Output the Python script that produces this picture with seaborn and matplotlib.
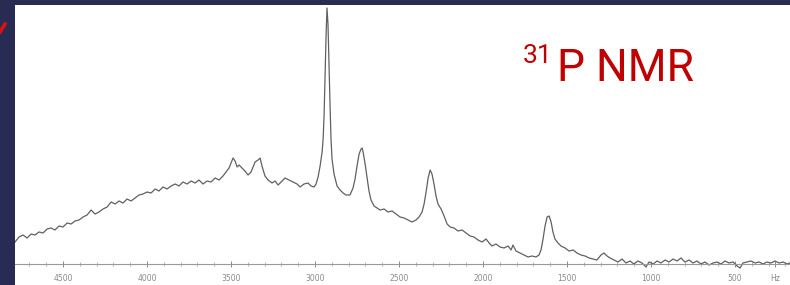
import matplotlib
matplotlib.use("Agg")
import matplotlib.pyplot as plt
from matplotlib.lines import Line2D
from matplotlib.ticker import MultipleLocator
import pandas as pd
import seaborn as sns

# ---- data ----
freq_hz = [4786, 4762, 4738, 4714, 4690, 4667, 4643, 4619, 4595, 4571, 4548, 4524, 4500, 4476,
           4452, 4429, 4405, 4381, 4357, 4333, 4310, 4286, 4262, 4238, 4214, 4190, 4167, 4143,
           4119, 4095, 4071, 4048, 4024, 4000, 3976, 3952, 3929, 3905, 3881, 3857, 3833, 3810,
           3786, 3762, 3738, 3714, 3691, 3667, 3643, 3619, 3595, 3571, 3548, 3530, 3512, 3500,
           3488, 3476, 3464, 3452, 3435, 3417, 3399, 3381, 3369, 3357, 3339, 3327, 3316, 3298,
           3280, 3256, 3238, 3220, 3202, 3179, 3155, 3131, 3107, 3089, 3066, 3042, 3024, 3006,
           2994, 2982, 2970, 2958, 2952, 2946, 2941, 2935, 2929, 2923, 2917, 2911, 2905, 2899,
           2887, 2869, 2851, 2833, 2816, 2792, 2774, 2762, 2750, 2738, 2726, 2720, 2714, 2702,
           2691, 2679, 2667, 2649, 2631, 2613, 2589, 2566, 2542, 2518, 2494, 2470, 2447, 2423,
           2399, 2381, 2363, 2351, 2339, 2327, 2315, 2304, 2292, 2280, 2268, 2250, 2232, 2214,
           2196, 2173, 2149, 2125, 2101, 2077, 2054, 2030, 2006, 1982, 1964, 1947, 1923, 1899,
           1875, 1851, 1833, 1822, 1804, 1780, 1756, 1732, 1709, 1685, 1667, 1655, 1643, 1631,
           1619, 1607, 1595, 1584, 1572, 1554, 1536, 1512, 1488, 1464, 1441, 1417, 1393, 1369,
           1345, 1322, 1298, 1280, 1262, 1244, 1220, 1197, 1173, 1149, 1125, 1102, 1078, 1054,
           1030, 1012, 988, 964, 941, 917, 893, 869, 845, 822, 798, 774, 750, 727,
           703, 679, 655, 631, 607, 584, 560, 536, 512, 488, 470, 453, 429, 405,
           381, 357, 333, 310, 286, 262, 238, 214, 191, 173]

intensity = [22, 27, 29, 26, 30, 29, 32, 31, 35, 36, 34, 38, 37, 41,
             40, 43, 44, 47, 49, 54, 50, 52, 55, 57, 62, 60, 63, 61,
             65, 63, 66, 69, 70, 72, 71, 75, 73, 77, 75, 78, 80, 78,
             82, 80, 83, 81, 84, 80, 83, 82, 86, 84, 88, 92, 96, 101,
             106, 103, 97, 99, 96, 93, 89, 92, 97, 102, 104, 106, 98, 88,
             84, 81, 83, 79, 82, 86, 84, 82, 80, 77, 80, 81, 78, 77,
             80, 87, 98, 112, 125, 150, 185, 225, 256, 240, 200, 160, 125, 105,
             90, 78, 74, 71, 69, 69, 76, 85, 98, 110, 115, 116, 112, 100,
             87, 73, 64, 58, 56, 54, 55, 52, 53, 50, 47, 46, 44, 42,
             44, 47, 52, 60, 72, 86, 94, 90, 80, 68, 60, 55, 48, 40,
             37, 36, 33, 34, 31, 28, 27, 24, 22, 25, 21, 18, 20, 17,
             16, 18, 14, 19, 13, 11, 9, 7, 8, 7, 9, 14, 25, 38,
             47, 48, 42, 32, 25, 21, 18, 16, 13, 14, 11, 9, 8, 6,
             5, 4, 9, 11, 8, 6, 4, 2, 5, 1, 3, 0, 3, 1,
             -3, 2, 0, 3, 1, 4, 2, 5, 3, 6, 2, 4, 1, 3,
             0, 2, -1, 1, 2, 0, 3, 1, 2, -2, -4, 1, 2, 3,
             1, 2, 0, 2, 1, 3, 1, 2, 0, 1]

tick_values = [4500, 4000, 3500, 3000, 2500, 2000, 1500, 1000, 500, 262]
tick_labels = ["4500", "4000", "3500", "3000", "2500", "2000", "1500", "1000", "500", "Hz"]

title_sup = "31"
title_main = "P NMR"

df = pd.DataFrame({"freq": freq_hz, "intensity": intensity})

W, H = 790, 285
fig = plt.figure(figsize=(W / 100, H / 100), dpi=100)
fig.patch.set_facecolor("#282b52")

ax = fig.add_axes([15 / W, 0, 775 / W, 280 / H])
ax.set_facecolor("white")

sns.lineplot(data=df, x="freq", y="intensity", ax=ax, sort=False,
             color="#606060", linewidth=0.9, estimator=None)

ax.set_xlim(4786, 173)
ax.set_ylim(-21, 259)
ax.set_xlabel("")
ax.set_ylabel("")
for s in ["top", "left", "right"]:
    ax.spines[s].set_visible(False)
ax.spines["bottom"].set_position(("data", 0))
ax.spines["bottom"].set_color("#9a9a9a")
ax.spines["bottom"].set_linewidth(0.8)
ax.set_yticks([])
ax.set_xticks(tick_values)
ax.set_xticklabels(tick_labels)
ax.xaxis.set_minor_locator(MultipleLocator(100))
ax.tick_params(axis="x", which="major", direction="inout", length=5, width=0.7,
               color="#8a8a8a", labelsize=5.5, labelcolor="#8a8a8a", pad=5)
ax.tick_params(axis="x", which="minor", direction="inout", length=3, width=0.6,
               color="#aaaaaa")

# title text in figure pixel coordinates
fig.text(523 / W, 1 - 63 / H, title_sup, color="#c00000", fontsize=19,
         family="Roboto", ha="left", va="baseline")
fig.text(557 / W, 1 - 81 / H, title_main, color="#c00000", fontsize=32,
         family="Roboto", ha="left", va="baseline")

# red mark at top-left
fig.add_artist(Line2D([0 / W, 5 / W], [1 - 32 / H, 1 - 24 / H], color="#e01010",
                      linewidth=2.5, transform=fig.transFigure))

fig.savefig("out.png", dpi=100, facecolor=fig.get_facecolor())
